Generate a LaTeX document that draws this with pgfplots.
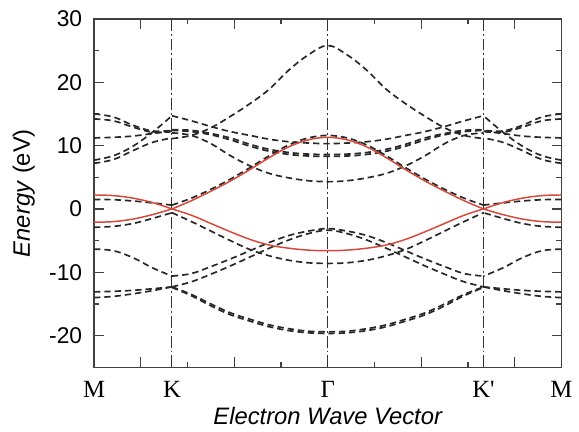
\documentclass[border=0pt]{standalone}
\usepackage{fontspec}
\setmainfont{Liberation Sans}
\newfontfamily\tnr{Liberation Serif}
\usepackage{pgfplots}
\usepackage{pgfplotstable}
\pgfplotsset{compat=1.18}

\definecolor{bandred}{RGB}{214,72,58}
\definecolor{banddash}{RGB}{40,40,40}

% M -> K
\pgfplotstableread{
x    rU   rL   pU   pL    u1   u2   u3   u4   u5   l1    l2     l3
0    2.2  -2.1 1.5  -2.9  15.0 14.2 11.2 7.7  7.2  -6.35 -13.1  -14.0
0.25 2.1  -2.0 1.45 -2.75 14.5 13.9 11.3 8.4  7.8  -6.6  -13.0  -13.8
0.5  1.7  -1.6 1.25 -2.3  13.2 12.9 11.5 9.9  9.2  -7.7  -12.85 -13.4
0.75 1.0  -0.9 0.95 -1.5  12.3 12.1 11.9 12.1 10.5 -9.3  -12.6  -12.9
1    0    0    0.6  -0.6  12.4 12.2 12.3 14.7 11.2 -10.6 -12.3  -12.3
}\Sone

% K' -> M
\pgfplotstableread{
x    rU   rL   pU   pL    u1   u2   u3   u4   u5   l1    l2     l3
6    2.2  -2.1 1.5  -2.9  15.0 14.2 11.2 7.7  7.2  -6.35 -13.1  -14.0
5.75 2.1  -2.0 1.45 -2.75 14.5 13.9 11.3 8.4  7.8  -6.6  -13.0  -13.8
5.5  1.7  -1.6 1.25 -2.3  13.2 12.9 11.5 9.9  9.2  -7.7  -12.85 -13.4
5.25 1.0  -0.9 0.95 -1.5  12.3 12.1 11.9 12.1 10.5 -9.3  -12.6  -12.9
5    0    0    0.6  -0.6  12.4 12.2 12.3 14.7 11.2 -10.6 -12.3  -12.3
}\Sthree

% K -> Gamma -> K'
\pgfplotstableread{
x    rU   rL   pU   pL   v1   v2   v3   v3b  v4   l1    l2    l3    l3b
1    0    0    0.6  -0.6 12.0 14.7 12.4 12.5 11.1 -10.6 -12.3 -12.3 -12.4
1.25 1.3  -1.0 1.7  -2.0 11.6 13.9 12.2 12.4 11.6 -10.2 -11.5 -13.5 -13.7
1.5  2.8  -2.3 3.1  -3.5 10.3 13.0 11.7 11.9 12.8 -9.1  -10.3 -15.0 -15.3
1.75 4.4  -3.6 4.7  -5.0 8.4  12.2 10.9 11.2 14.6 -7.9  -9.0  -16.4 -16.7
2    6.2  -4.8 6.5  -6.4 6.8  11.6 9.9  10.2 16.6 -6.6  -7.6  -17.4 -17.7
2.25 8.1  -5.7 8.4  -7.4 5.6  11.0 9.1  9.4  18.9 -5.3  -6.2  -18.3 -18.6
2.5  9.8  -6.2 10.1 -8.1 4.9  10.6 8.6  8.9  21.9 -4.2  -4.9  -18.9 -19.2
2.75 10.9 -6.5 11.2 -8.5 4.45 10.4 8.35 8.65 24.3 -3.5  -3.9  -19.3 -19.55
3    11.3 -6.6 11.6 -8.6 4.3  10.3 8.3  8.6  25.8 -3.1  -3.35 -19.4 -19.65
3.25 10.9 -6.5 11.2 -8.5 4.45 10.4 8.35 8.65 24.3 -3.5  -3.9  -19.3 -19.55
3.5  9.8  -6.2 10.1 -8.1 4.9  10.6 8.6  8.9  21.9 -4.2  -4.9  -18.9 -19.2
3.75 8.1  -5.7 8.4  -7.4 5.6  11.0 9.1  9.4  18.9 -5.3  -6.2  -18.3 -18.6
4    6.2  -4.8 6.5  -6.4 6.8  11.6 9.9  10.2 16.6 -6.6  -7.6  -17.4 -17.7
4.25 4.4  -3.6 4.7  -5.0 8.4  12.2 10.9 11.2 14.6 -7.9  -9.0  -16.4 -16.7
4.5  2.8  -2.3 3.1  -3.5 10.3 13.0 11.7 11.9 12.8 -9.1  -10.3 -15.0 -15.3
4.75 1.3  -1.0 1.7  -2.0 11.6 13.9 12.2 12.4 11.6 -10.2 -11.5 -13.5 -13.7
5    0    0    0.6  -0.6 12.0 14.7 12.4 12.5 11.1 -10.6 -12.3 -12.3 -12.4
}\Stwo

\begin{document}
\begin{tikzpicture}
\begin{axis}[
    at={(0,0)}, anchor=south west,
    scale only axis,
    width=236pt, height=176pt,
    xmin=0, xmax=6,
    ymin=-25, ymax=30,
    axis line style={draw=black!75, line width=0.7pt},
    tick align=inside,
    major tick length=5pt, minor tick length=2.5pt,
    tick style={draw=black!75, line width=0.6pt},
    ytick={-20,-10,...,30},
    minor ytick={-15,-5,...,25},
    xtick={0.6,1.8,3.0,4.2,5.4},
    minor xtick={1.2,2.4,3.6,4.8},
    xticklabels={,,,,},
    extra x ticks={0,1,3,5,6},
    extra x tick labels={M,K,Γ,K\textquotesingle,M},
    extra x tick style={major tick length=0pt},
    xticklabel style={font=\tnr\fontsize{12.5}{14}\selectfont, anchor=center, yshift=-11pt},
    /pgf/number format/assume math mode=true,
    yticklabel style={font=\fontsize{11.5}{13}\selectfont, xshift=-2.5pt},
    xlabel={\itshape Electron Wave Vector},
    ylabel={\itshape Energy\/ \upshape(eV)},
    xlabel style={at={(axis description cs:0.5,-0.139)}, anchor=center, font=\fontsize{12}{14}\selectfont},
    ylabel style={at={(axis description cs:-0.1504,0.5)}, anchor=center, font=\fontsize{12}{14}\selectfont},
    dband/.style={banddash, line width=0.85pt, dash pattern=on 3.2pt off 2pt, smooth, tension=0.6},
    rband/.style={bandred, line width=0.75pt, smooth, tension=0.6},
    vline/.style={black!80, line width=0.55pt, dash pattern=on 6pt off 1.5pt on 1pt off 1.5pt},
]
    % symmetry points
    \addplot[vline] coordinates {(1,-25) (1,30)};
    \addplot[vline] coordinates {(3,-25) (3,30)};
    \addplot[vline] coordinates {(5,-25) (5,30)};

    % dashed bands
    \pgfplotsinvokeforeach{u1,u2,u3,u4,u5,pU,pL,l1,l2,l3}{
        \addplot[dband] table[x=x, y=#1] {\Sone};
        \addplot[dband] table[x=x, y=#1] {\Sthree};
    }
    \pgfplotsinvokeforeach{v1,v2,v3,v3b,v4,pU,pL,l1,l2,l3,l3b}{
        \addplot[dband] table[x=x, y=#1] {\Stwo};
    }

    % red bands
    \pgfplotsinvokeforeach{rU,rL}{
        \addplot[rband] table[x=x, y=#1] {\Sone};
        \addplot[rband] table[x=x, y=#1] {\Stwo};
        \addplot[rband] table[x=x, y=#1] {\Sthree};
    }
\end{axis}
\path (-47.5pt,-32pt) rectangle (242pt,185.5pt);
\end{tikzpicture}
\end{document}
